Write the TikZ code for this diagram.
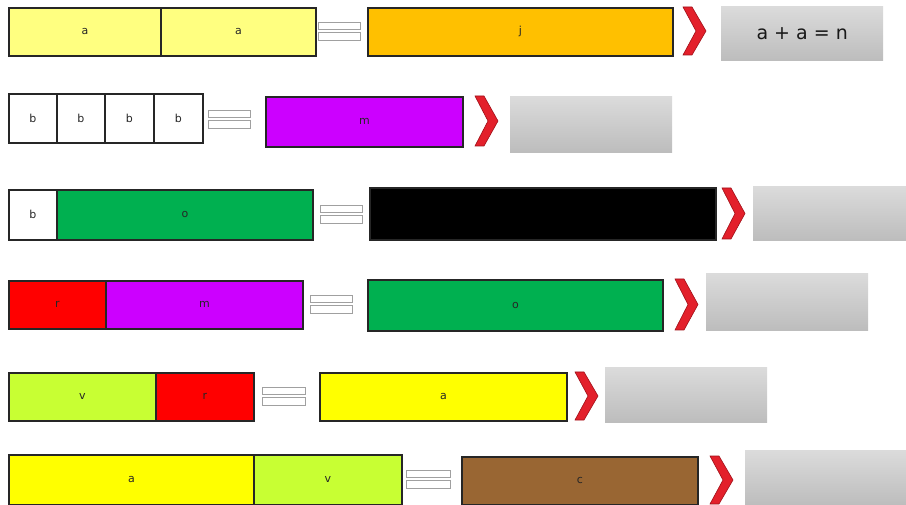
\documentclass[tikz,border=0pt]{standalone}
\usepackage{fontspec}
\setmainfont{DejaVu Sans}
\definecolor{lyel}{HTML}{FFFF80}
\definecolor{orng}{HTML}{FFC000}
\definecolor{mag}{HTML}{CC00FF}
\definecolor{grn}{HTML}{00B050}
\definecolor{rd}{HTML}{FF0000}
\definecolor{ygr}{HTML}{C8FF33}
\definecolor{yel}{HTML}{FFFF00}
\definecolor{brn}{HTML}{996633}
\definecolor{chev}{HTML}{E3202B}
\definecolor{chevd}{HTML}{A01018}
\definecolor{eqline}{HTML}{A0A0A0}
\begin{document}
\begin{tikzpicture}[x=1pt,y=-1pt,
  bar/.style={draw=black!85, line width=1.8pt, anchor=north west, inner sep=0pt,
    font=\fontsize{11}{13}\selectfont, text=black!85},
  answer/.style={anchor=north west, inner sep=0pt, top color=black!14, bottom color=black!26,
    font=\fontsize{19}{22}\selectfont, text=black!90},
  eqbar/.style={draw=eqline, fill=white, line width=0.9pt},
  chevron/.style={fill=chev, draw=chevd, line width=0.6pt, line join=miter}]
\useasboundingbox (0,0) rectangle (906,505);
\newcommand\mychev[3]{%
  \path[chevron] (#1,#2) -- ({#1+9},#2) -- ({#1+23},{(#2+#3)/2}) -- ({#1+9},#3) -- (#1,#3) -- ({#1+13},{(#2+#3)/2}) -- cycle;}
\newcommand\myeq[3]{%
  \draw[eqbar] (#1,{#3-9}) rectangle (#2,{#3-1.5});
  \draw[eqbar] (#1,{#3+1.5}) rectangle (#2,{#3+9});}

% Row 1
\node[bar, fill=lyel, minimum width=152pt, minimum height=48pt] (r1a) at (8,7) {a};
\node[bar, fill=lyel, minimum width=155pt, minimum height=48pt] (r1b) at (160,7) {a};
\myeq{318}{360}{31}
\node[bar, fill=orng, minimum width=305pt, minimum height=48pt] (r1c) at (367,7) {j};
\mychev{683}{7}{55}
\node[answer, minimum width=162pt, minimum height=54pt] (r1d) at (721,6) {a + a = n};

% Row 2
\node[bar, fill=white, minimum width=48pt, minimum height=49pt] (r2a) at (8,93) {b};
\node[bar, fill=white, minimum width=48pt, minimum height=49pt] (r2b) at (56,93) {b};
\node[bar, fill=white, minimum width=49pt, minimum height=49pt] (r2c) at (104,93) {b};
\node[bar, fill=white, minimum width=49pt, minimum height=49pt] (r2d) at (153,93) {b};
\myeq{208}{250}{119}
\node[bar, fill=mag, minimum width=197pt, minimum height=50pt] (r2e) at (265,96) {m};
\mychev{475}{96}{146}
\node[answer, minimum width=162pt, minimum height=56pt] (r2f) at (510,96) {};

% Row 3
\node[bar, fill=white, minimum width=48pt, minimum height=50pt] (r3a) at (8,189) {b};
\node[bar, fill=grn, minimum width=256pt, minimum height=50pt] (r3b) at (56,189) {o};
\myeq{320}{362}{214}
\node[bar, fill=black, minimum width=346pt, minimum height=52pt] (r3c) at (369,187) {};
\mychev{722}{188}{239}
\node[answer, minimum width=153pt, minimum height=54pt] (r3d) at (753,186) {};

% Row 4
\node[bar, fill=rd, minimum width=97pt, minimum height=48pt] (r4a) at (8,280) {r};
\node[bar, fill=mag, minimum width=197pt, minimum height=48pt] (r4b) at (105,280) {m};
\myeq{310}{352}{304}
\node[bar, fill=grn, minimum width=295pt, minimum height=51pt] (r4c) at (367,279) {o};
\mychev{675}{279}{330}
\node[answer, minimum width=162pt, minimum height=57pt] (r4d) at (706,273) {};

% Row 5
\node[bar, fill=ygr, minimum width=147pt, minimum height=48pt] (r5a) at (8,372) {v};
\node[bar, fill=rd, minimum width=98pt, minimum height=48pt] (r5b) at (155,372) {r};
\myeq{262}{305}{396}
\node[bar, fill=yel, minimum width=247pt, minimum height=48pt] (r5c) at (319,372) {a};
\mychev{575}{372}{420}
\node[answer, minimum width=162pt, minimum height=55pt] (r5d) at (605,367) {};

% Row 6
\node[bar, fill=yel, minimum width=245pt, minimum height=50pt] (r6a) at (8,454) {a};
\node[bar, fill=ygr, minimum width=148pt, minimum height=50pt] (r6b) at (253,454) {v};
\myeq{406}{450}{479}
\node[bar, fill=brn, minimum width=236pt, minimum height=48pt] (r6c) at (461,456) {c};
\mychev{710}{456}{504}
\node[answer, minimum width=161pt, minimum height=55pt] (r6d) at (745,450) {};
\end{tikzpicture}
\end{document}
